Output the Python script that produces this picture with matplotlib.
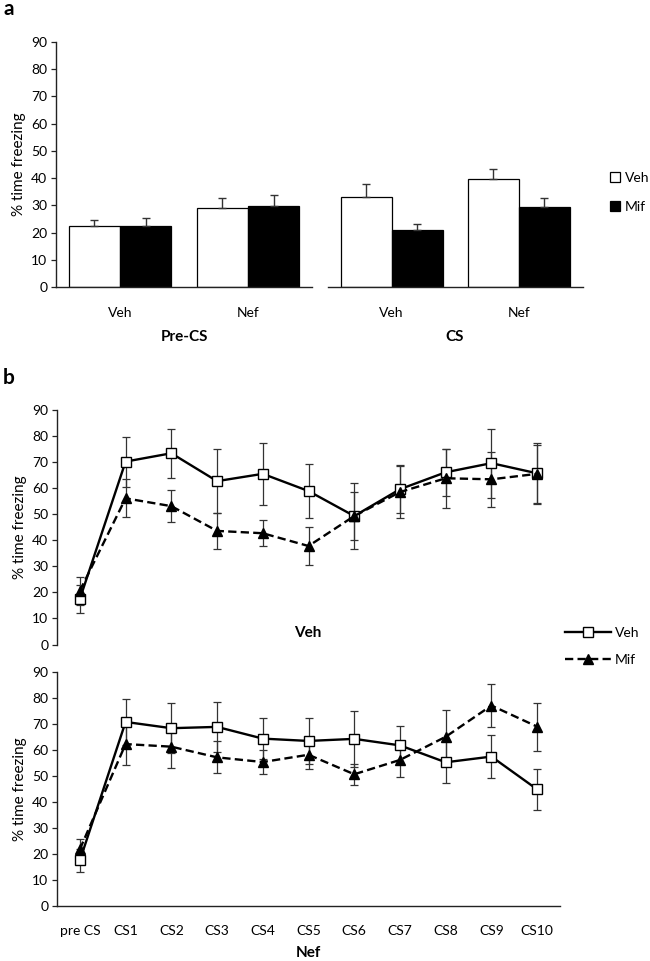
import numpy as np
import matplotlib
matplotlib.use("Agg")
import matplotlib.pyplot as plt
from matplotlib.lines import Line2D
from matplotlib.patches import Patch

plt.rcParams['font.family'] = ['Lato', 'DejaVu Sans']

# panel a: mean % freezing, groups Veh / Nef
groups = ["Veh", "Nef"]
pre_veh = [22.6, 29.1]
pre_veh_err = [2.2, 3.6]
pre_mif = [22.3, 29.7]
pre_mif_err = [3.0, 4.2]
cs_veh = [33.0, 39.6]
cs_veh_err = [5.0, 3.7]
cs_mif = [20.9, 29.4]
cs_mif_err = [2.2, 3.4]

# panel b: trials
trials = ["pre CS", "CS1", "CS2", "CS3", "CS4", "CS5", "CS6", "CS7", "CS8", "CS9", "CS10"]
# top (Veh)
top_veh = [17.5, 70.2, 73.4, 62.7, 65.5, 58.9, 49.3, 59.6, 66.1, 69.6, 65.7]
top_veh_err = [5.5, 9.6, 9.4, 12.2, 11.8, 10.2, 12.5, 9.3, 9.0, 13.2, 11.6]
top_mif = [20.6, 56.1, 53.1, 43.6, 42.7, 37.8, 49.3, 58.5, 63.8, 63.4, 65.5]
top_mif_err = [5.3, 7.3, 6.2, 6.8, 5.0, 7.2, 9.3, 10.0, 11.4, 10.5, 11.1]
# bottom (Nef)
bot_veh = [17.5, 70.7, 68.3, 68.8, 64.3, 63.4, 64.2, 61.7, 55.2, 57.4, 44.8]
bot_veh_err = [4.3, 8.9, 9.6, 9.6, 7.8, 8.9, 10.8, 7.3, 8.1, 8.4, 7.9]
bot_mif = [21.8, 62.2, 61.2, 57.1, 55.3, 58.1, 50.6, 56.1, 65.0, 77.0, 68.9]
bot_mif_err = [3.8, 8.2, 8.2, 6.1, 4.7, 5.6, 4.0, 6.7, 10.3, 8.4, 9.2]

W, H = 650, 961
FS = 10
DASH = (0, (3.5, 1.8))


def px_axes(fig, x0, x1, y0, y1):
    # pixel box -> figure fraction
    return fig.add_axes([x0 / W, 1 - y1 / H, (x1 - x0) / W, (y1 - y0) / H])


def style_axes(ax, show_left=True, show_bottom=True):
    for s in ["top", "right"]:
        ax.spines[s].set_visible(False)
    ax.spines["left"].set_visible(show_left)
    ax.spines["bottom"].set_visible(show_bottom)
    for s in ["left", "bottom"]:
        ax.spines[s].set_linewidth(1.0)
        ax.spines[s].set_color("#222222")
    ax.set_ylim(0, 90)
    ax.set_yticks(np.arange(0, 91, 10))
    ax.tick_params(axis="y", length=3.3, width=0.9, color="#222222",
                   labelsize=FS, pad=3)
    ax.tick_params(axis="x", length=0, labelsize=FS)
    if not show_left:
        ax.tick_params(axis="y", left=False, labelleft=False)


def bar_panel(ax, veh, veh_err, mif, mif_err, xlim):
    x = np.arange(len(groups))
    w = 0.40
    ax.bar(x - w / 2, veh, w, color="white", edgecolor="black", linewidth=0.9, zorder=2)
    ax.bar(x + w / 2, mif, w, color="black", edgecolor="black", linewidth=0.9, zorder=2)
    ax.errorbar(x - w / 2, veh, yerr=[np.zeros(2), veh_err], fmt="none",
                ecolor="#333333", elinewidth=1.0, capsize=3, capthick=1.0, zorder=3)
    ax.errorbar(x + w / 2, mif, yerr=[np.zeros(2), mif_err], fmt="none",
                ecolor="#333333", elinewidth=1.0, capsize=3, capthick=1.0, zorder=3)
    ax.set_xticks(x)
    ax.set_xticklabels(groups)
    ax.tick_params(axis="x", pad=14)
    ax.set_xlim(*xlim)


def line_panel(ax, veh, veh_err, mif, mif_err):
    x = np.arange(len(trials))
    ax.errorbar(x, veh, yerr=veh_err, fmt="none", ecolor="#333333",
                elinewidth=0.9, capsize=3, capthick=0.9, zorder=2)
    ax.errorbar(x, mif, yerr=mif_err, fmt="none", ecolor="#333333",
                elinewidth=0.9, capsize=3, capthick=0.9, zorder=2)
    ax.plot(x, veh, color="black", lw=1.7, marker="s", ms=7, mfc="white",
            mec="black", mew=1.0, zorder=3)
    ax.plot(x, mif, color="black", lw=1.7, ls=DASH, marker="^", ms=7,
            mfc="black", mec="black", zorder=4)
    ax.set_xlim(-0.5, len(trials) - 0.5)
    ax.set_xticks(x)


fig = plt.figure(figsize=(W / 100, H / 100), dpi=100)

# ---- panel a
ax1 = px_axes(fig, 56, 312, 41.7, 287.3)
style_axes(ax1)
bar_panel(ax1, pre_veh, pre_veh_err, pre_mif, pre_mif_err, (-0.5, 1.5))
ax1.set_ylabel("% time freezing", fontsize=11, labelpad=4)

ax2 = px_axes(fig, 328, 582.5, 41.7, 287.3)
style_axes(ax2, show_left=False)
bar_panel(ax2, cs_veh, cs_veh_err, cs_mif, cs_mif_err, (-0.5, 1.5))

fig.text(184 / W, 1 - 337 / H, "Pre-CS", ha="center", va="center",
         fontsize=11, fontweight="bold")
fig.text(455 / W, 1 - 337 / H, "CS", ha="center", va="center",
         fontsize=11, fontweight="bold")

leg_a = [Patch(facecolor="white", edgecolor="black", linewidth=0.9, label="Veh"),
         Patch(facecolor="black", edgecolor="black", linewidth=0.9, label="Mif")]
fig.legend(handles=leg_a, loc="upper left", bbox_to_anchor=(610 / W, 1 - 172 / H),
           frameon=False, fontsize=FS, handlelength=0.75, handleheight=0.75,
           handletextpad=0.3, labelspacing=1.2, borderpad=0, borderaxespad=0)

# ---- panel b
ax3 = px_axes(fig, 57, 560, 410, 644.5)
style_axes(ax3, show_bottom=False)
line_panel(ax3, top_veh, top_veh_err, top_mif, top_mif_err)
ax3.set_xticklabels([])
ax3.set_ylabel("% time freezing", fontsize=11, labelpad=4)
fig.text(308 / W, 1 - 633 / H, "Veh", ha="center", va="center",
         fontsize=11, fontweight="bold")

ax4 = px_axes(fig, 57, 560, 671.7, 906)
style_axes(ax4)
line_panel(ax4, bot_veh, bot_veh_err, bot_mif, bot_mif_err)
ax4.set_xticklabels(trials)
ax4.tick_params(axis="x", pad=14)
ax4.set_ylabel("% time freezing", fontsize=11, labelpad=4)
fig.text(308 / W, 1 - 953 / H, "Nef", ha="center", va="center",
         fontsize=11, fontweight="bold")

leg_b = [Line2D([], [], color="black", lw=1.7, marker="s", ms=7, mfc="white",
                mec="black", label="Veh"),
         Line2D([], [], color="black", lw=1.7, ls=DASH, marker="^", ms=7,
                mfc="black", mec="black", label="Mif")]
fig.legend(handles=leg_b, loc="upper left", bbox_to_anchor=(565 / W, 1 - 627 / H),
           frameon=False, fontsize=FS, handlelength=3.3, handletextpad=0.3,
           labelspacing=1.1, borderpad=0, borderaxespad=0)

fig.text(3 / W, 1 - 9 / H, "a", ha="left", va="center", fontsize=15, fontweight="bold")
fig.text(3 / W, 1 - 378 / H, "b", ha="left", va="center", fontsize=15, fontweight="bold")

fig.savefig("out.png", dpi=100)
